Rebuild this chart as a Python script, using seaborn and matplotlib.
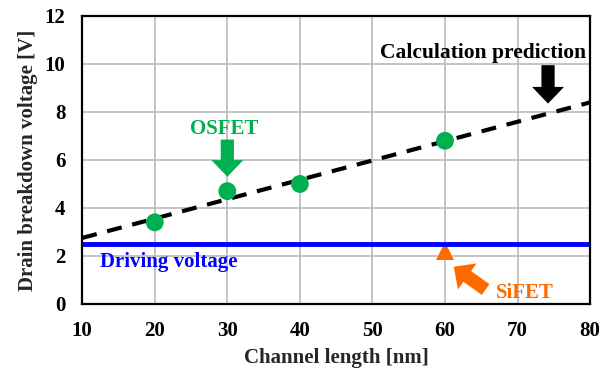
import matplotlib
matplotlib.use("Agg")
import matplotlib.pyplot as plt
import seaborn as sns
import pandas as pd

# ---- data ----
os_length = [20, 30, 40, 60]
os_voltage = [3.4, 4.7, 5.0, 6.8]
calc_length = [10, 80]
calc_voltage = [2.75, 8.4]
drive_length = [10, 80]
drive_voltage = [2.5, 2.5]
si_length = [60]
si_voltage = [2.2]
x_ticks = [10, 20, 30, 40, 50, 60, 70, 80]
y_ticks = [0, 2, 4, 6, 8, 10, 12]

sns.set_style("whitegrid")
plt.rcParams['font.family'] = ['Liberation Serif', 'DejaVu Serif']
plt.rcParams['font.weight'] = 'bold'

GREEN = '#00b050'
ORANGE = '#ff6a00'
BLUE = '#0000ff'

fig = plt.figure(figsize=(6.09, 3.72), dpi=100)
ax = fig.add_axes([0.135, 0.183, 0.834, 0.774])

sns.lineplot(x=calc_length, y=calc_voltage, ax=ax, color='black', lw=3.0,
             linestyle=(0, (3.6, 2.6)), zorder=3)
sns.lineplot(x=si_length, y=si_voltage, ax=ax, marker='^', markersize=13,
             color=ORANGE, markeredgewidth=0, linestyle='none', zorder=3)
sns.lineplot(x=drive_length, y=drive_voltage, ax=ax, color=BLUE, lw=3.5, zorder=4)
sns.scatterplot(x=os_length, y=os_voltage, ax=ax, color=GREEN, s=165,
                edgecolor='none', zorder=5)

ax.set_xlim(10, 80)
ax.set_ylim(0, 12)
ax.set_xticks(x_ticks)
ax.set_yticks(y_ticks)
ax.grid(True, color='#b4b4b4', lw=1.1)
for s in ax.spines.values():
    s.set_color('black')
    s.set_linewidth(1.6)
    s.set_zorder(6)
ax.tick_params(axis='both', direction='in', length=4, width=1.3, colors='black',
               labelsize=15, pad=12)
for lab in ax.get_xticklabels() + ax.get_yticklabels():
    lab.set_fontweight('bold')

ax.set_xlabel('Channel length [nm]', fontsize=15, fontweight='bold', labelpad=5)
ax.set_ylabel('Drain breakdown voltage [V]', fontsize=15, fontweight='bold', labelpad=5)

arrow_style = 'simple,head_length=1.2,head_width=2.3,tail_width=0.95'

# annotations
ax.text(29.5, 7.28, 'OSFET', color=GREEN, fontsize=15, fontweight='bold',
        ha='center', va='center')
ax.annotate('', xy=(30, 5.3), xytext=(30, 6.85),
            arrowprops=dict(arrowstyle=arrow_style,
                            color=GREEN, lw=0, shrinkA=0, shrinkB=0))
ax.text(79.4, 10.45, 'Calculation prediction', color='black', fontsize=15.5,
        fontweight='bold', ha='right', va='center')
ax.annotate('', xy=(74.2, 8.35), xytext=(74.2, 9.95),
            arrowprops=dict(arrowstyle=arrow_style,
                            color='black', lw=0, shrinkA=0, shrinkB=0))
ax.text(12.5, 1.73, 'Driving voltage', color=BLUE, fontsize=15,
        fontweight='bold', ha='left', va='center')
ax.text(71.0, 0.45, 'SiFET', color=ORANGE, fontsize=15, fontweight='bold',
        ha='center', va='center')
ax.annotate('', xy=(61.2, 1.55), xytext=(65.6, 0.6),
            arrowprops=dict(arrowstyle=arrow_style,
                            color=ORANGE, lw=0, shrinkA=0, shrinkB=0))

fig.savefig('out.png', dpi=100)
